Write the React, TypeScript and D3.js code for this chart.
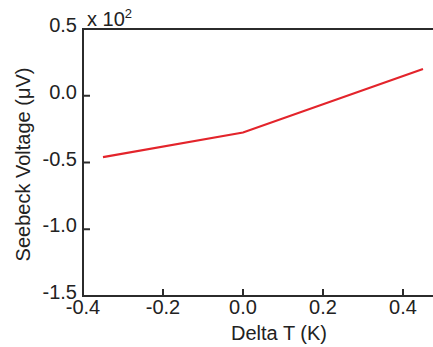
import * as d3 from 'd3';
import React from 'react';

// Delta T (K) vs Seebeck voltage (x 10^2 µV)
const deltaT = [-0.35, 0.0, 0.45];
const voltage = [-0.46, -0.275, 0.2];
const xTicks = [-0.4, -0.2, 0.0, 0.2, 0.4];
const yTicks = [0.5, 0.0, -0.5, -1.0, -1.5];

const W = 433;
const H = 347;
const margin = { top: 29, right: 0, bottom: 51, left: 83 };
const FONT = "'Liberation Sans', Arial, sans-serif";
const FS = 20;

const fmt = (t: number) => d3.format('.1f')(t).replace('−', '-');

const App: React.FC = () => {
  const x = d3.scaleLinear().domain([-0.4, 0.475]).range([margin.left, W - margin.right]);
  const y = d3.scaleLinear().domain([-1.5, 0.5]).range([H - margin.bottom, margin.top]);

  const line = d3.line<number>()
    .x((_, i) => x(deltaT[i]))
    .y(v => y(v));

  const axisColor = '#2b2b2b';
  const bottom = y(-1.5);
  const left = x(-0.4);

  return (
    <svg width={W} height={H} style={{ position: 'absolute', left: 0, top: 0, background: '#fff' }}>
      {/* frame */}
      <line x1={left} x2={W} y1={margin.top} y2={margin.top} stroke={axisColor} strokeWidth={2} />
      <line x1={left} x2={W} y1={bottom} y2={bottom} stroke={axisColor} strokeWidth={2} />
      <line x1={left} x2={left} y1={margin.top - 1} y2={bottom + 1} stroke={axisColor} strokeWidth={2} />

      {/* y ticks */}
      {yTicks.map(t => (
        <g key={`y${t}`}>
          <line x1={left} x2={left + 7} y1={y(t)} y2={y(t)} stroke={axisColor} strokeWidth={2} />
          <text x={left - 6} y={y(t)} dy="0.15em" textAnchor="end" fontFamily={FONT} fontSize={FS} fill="#222">
            {fmt(t)}
          </text>
        </g>
      ))}

      {/* x ticks */}
      {xTicks.map(t => (
        <g key={`x${t}`}>
          <line x1={x(t)} x2={x(t)} y1={bottom} y2={bottom - 7} stroke={axisColor} strokeWidth={2} />
          <text x={x(t)} y={bottom + 18} textAnchor="middle" fontFamily={FONT} fontSize={FS} fill="#222">
            {fmt(t)}
          </text>
        </g>
      ))}

      {/* data */}
      <path d={line(voltage) ?? ''} fill="none" stroke="#e3242b" strokeWidth={2.2} />

      {/* multiplier */}
      <text x={87} y={26} fontFamily={FONT} fontSize={FS} fill="#222">
        x 10<tspan fontSize={13} dy={-8}>2</tspan>
      </text>

      {/* axis titles */}
      <text
        transform={`translate(30,${(margin.top + bottom) / 2 + 2}) rotate(-90)`}
        textAnchor="middle"
        fontFamily={FONT}
        fontSize={FS}
        fill="#222"
      >
        Seebeck Voltage (μV)
      </text>
      <text x={279} y={340} textAnchor="middle" fontFamily={FONT} fontSize={FS} fill="#222">
        Delta T (K)
      </text>
    </svg>
  );
};

export default App;
